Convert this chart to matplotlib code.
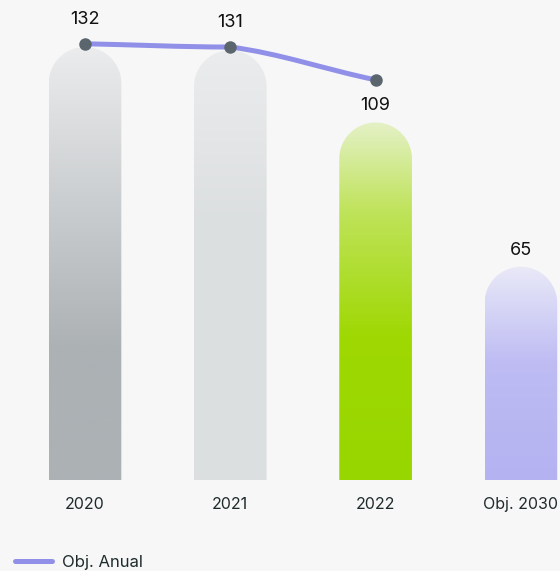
import numpy as np
import matplotlib
matplotlib.use('Agg')
import matplotlib.pyplot as plt
from matplotlib.path import Path
from matplotlib.patches import PathPatch
from matplotlib.colors import LinearSegmentedColormap
from matplotlib.lines import Line2D

plt.rcParams['font.family'] = ['Inter', 'DejaVu Sans']

# data
categories = ['2020', '2021', '2022', 'Obj. 2030']
values = [132, 131, 109, 65]
target_x = [0, 1, 2]
target_vals = [133, 132, 122]   # Obj. Anual
bar_gradients = [
    [(0.0, '#ebeced'), (0.7, '#acb1b4'), (1.0, '#acb1b4')],
    [(0.0, '#ebeced'), (0.4, '#dcdfe0'), (1.0, '#dde0e1')],
    [(0.0, '#e4f1c6'), (0.25, '#bfe35a'), (0.6, '#9fd803'), (1.0, '#98d600')],
    [(0.0, '#e9e9f8'), (0.45, '#bebcf3'), (1.0, '#b4b2f1')],
]

bg = '#f7f7f7'
W, H = 560, 571
fig = plt.figure(figsize=(W / 100, H / 100), dpi=100, facecolor=bg)

# axes layout in pixels
px_per_x = 145.3
x0_px = 85
bottom_px = 480
px_per_y = 3.28
ax = fig.add_axes([0, (H - bottom_px) / H, 1, bottom_px / H])
ax.set_facecolor(bg)
ax.set_xlim(-x0_px / px_per_x, (W - x0_px) / px_per_x)
ax.set_ylim(0, bottom_px / px_per_y)
for s in ax.spines.values():
    s.set_visible(False)
ax.set_yticks([])

bar_w = 0.5
rx = bar_w / 2
ry = rx * px_per_x / px_per_y


def rounded_bar(xc, h):
    n = 40
    t = np.linspace(np.pi, 0, n)
    verts = [(xc - rx, 0), (xc - rx, h - ry)]
    verts += [(xc + rx * np.cos(a), h - ry + ry * np.sin(a)) for a in t]
    verts += [(xc + rx, 0), (xc - rx, 0)]
    codes = [Path.MOVETO] + [Path.LINETO] * (len(verts) - 2) + [Path.CLOSEPOLY]
    return Path(verts, codes)


for i, (v, stops) in enumerate(zip(values, bar_gradients)):
    patch = PathPatch(rounded_bar(i, v), facecolor='none', edgecolor='none')
    ax.add_patch(patch)
    cmap = LinearSegmentedColormap.from_list(f'g{i}', stops)
    grad = np.linspace(0, 1, 256).reshape(-1, 1)
    im = ax.imshow(grad, cmap=cmap, aspect='auto', origin='upper',
                   extent=(i - rx, i + rx, 0, v), zorder=2, interpolation='bilinear')
    im.set_clip_path(patch)

# smooth line through the annual targets (hermite -> bezier)
n = len(target_x)
chords = [(target_vals[k + 1] - target_vals[k]) / (target_x[k + 1] - target_x[k])
          for k in range(n - 1)]
verts = [(target_x[0], target_vals[0])]
codes = [Path.MOVETO]
for k in range(n - 1):
    xa, ya = target_x[k], target_vals[k]
    xb, yb = target_x[k + 1], target_vals[k + 1]
    ma = chords[k] * 0.9 if k == 0 else chords[k] * 0.55
    mb = chords[k] * 0.9 if k == n - 2 else 0.0
    dx = (xb - xa) / 3
    verts += [(xa + dx, ya + ma * dx), (xb - dx, yb - mb * dx), (xb, yb)]
    codes += [Path.CURVE4] * 3
line_col = '#9190e8'
ax.add_patch(PathPatch(Path(verts, codes), facecolor='none', edgecolor=line_col,
                       lw=3.6, capstyle='round', zorder=4))
ax.plot(target_x, target_vals, 'o', color='#5b656d', ms=9, zorder=5, mec='none')

# value labels
for i, v in enumerate(values):
    top = v
    off = 12
    if i < len(target_vals) and target_vals[i] - v < 5:
        top = target_vals[i]
        off = 17.5
    ax.annotate(str(v), (i, top), xytext=(0, off), textcoords='offset points',
                ha='center', va='center', fontsize=13, color='#111111', zorder=6)

ax.set_xticks(range(len(categories)))
ax.set_xticklabels(categories, fontsize=11.5, color='#1f2b2b')
ax.tick_params(axis='x', length=0, pad=12)

handle = Line2D([], [], color=line_col, lw=3.6, solid_capstyle='round')
fig.legend([handle], ['Obj. Anual'], loc='center left',
           bbox_to_anchor=(15 / W, (H - 562) / H),
           frameon=False, fontsize=12, handlelength=2.2, handletextpad=0.6,
           borderpad=0, borderaxespad=0, labelcolor='#1f2b2b')

fig.savefig('out.png', dpi=100, facecolor=bg)
